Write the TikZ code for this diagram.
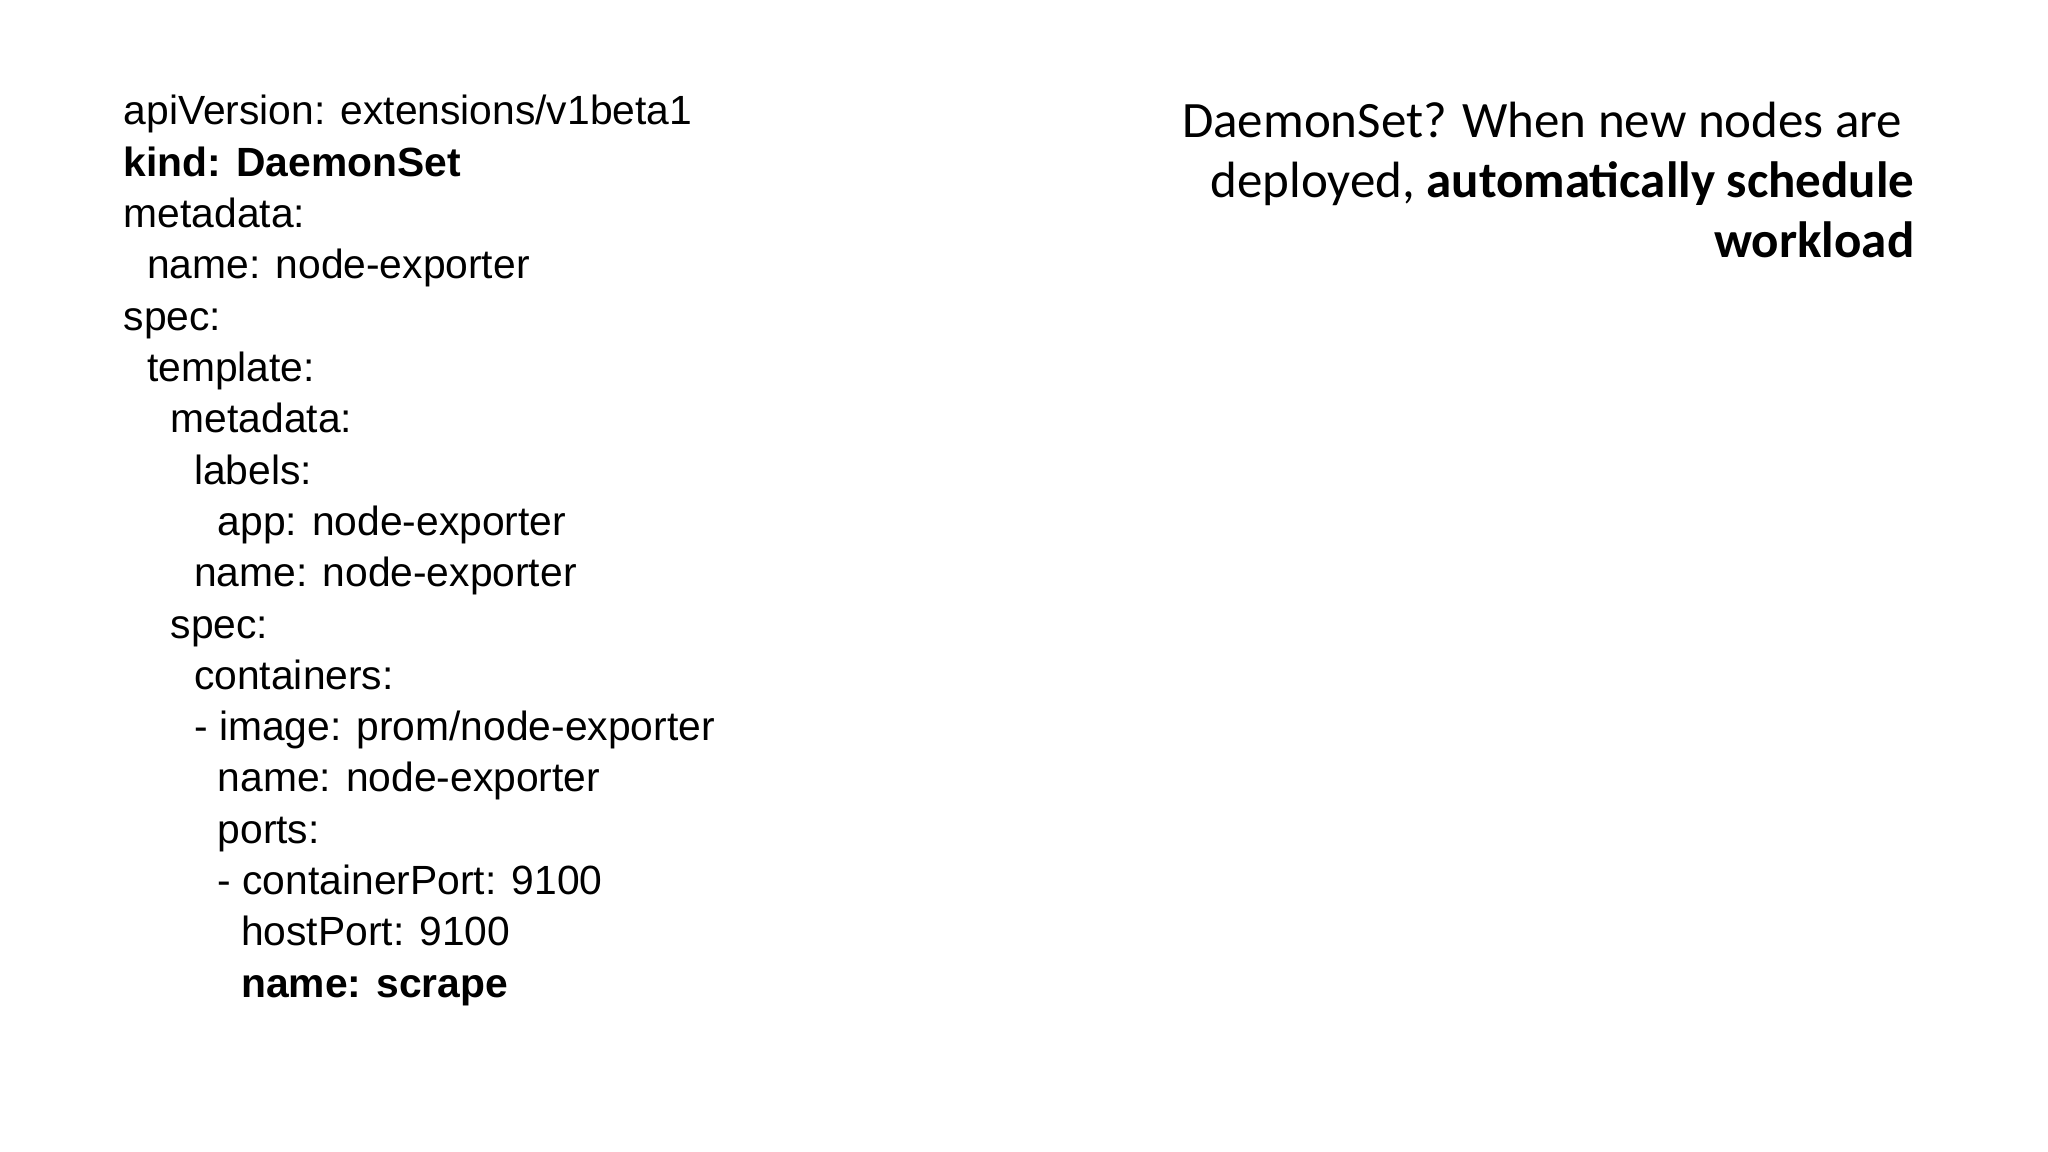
\documentclass[tikz,border=0pt]{standalone}
\usepackage{fontspec}
\setmainfont{Liberation Sans}
\newfontfamily\carlitofont{Carlito}
\begin{document}
\begin{tikzpicture}[x=0.01cm,y=-0.01cm,
 code/.style={anchor=base west,inner sep=0pt,font=\fontsize{11.6}{14}\selectfont},
 side/.style={anchor=base east,inner sep=0pt,font=\carlitofont\fontsize{14.5}{17}\selectfont}]
\useasboundingbox (0,0) rectangle (2048,1152);
\def\ind{23.5}
\foreach \l/\t [count=\i from 0] in {0/{apiVersion: extensions/v1beta1},0/{\bfseries kind: DaemonSet},0/{metadata:},1/{name: node-exporter},0/{spec:},1/{template:},2/{metadata:},3/{labels:},4/{app: node-exporter},3/{name: node-exporter},2/{spec:},3/{containers:},3/{- image: prom/node-exporter},4/{name: node-exporter},4/{ports:},4/{- containerPort: 9100},5/{hostPort: 9100},5/{\bfseries name: scrape}}
  \node[code] (l\i) at ({123+\l*\ind},{125+\i*51.3}) {\t};
\node[side] (r1) at (1903,138) {DaemonSet? When new nodes are};
\node[side] (r2) at (1915,198) {deployed, \bfseries automatically schedule};
\node[side] (r3) at (1915,258) {\bfseries workload};
\end{tikzpicture}
\end{document}
